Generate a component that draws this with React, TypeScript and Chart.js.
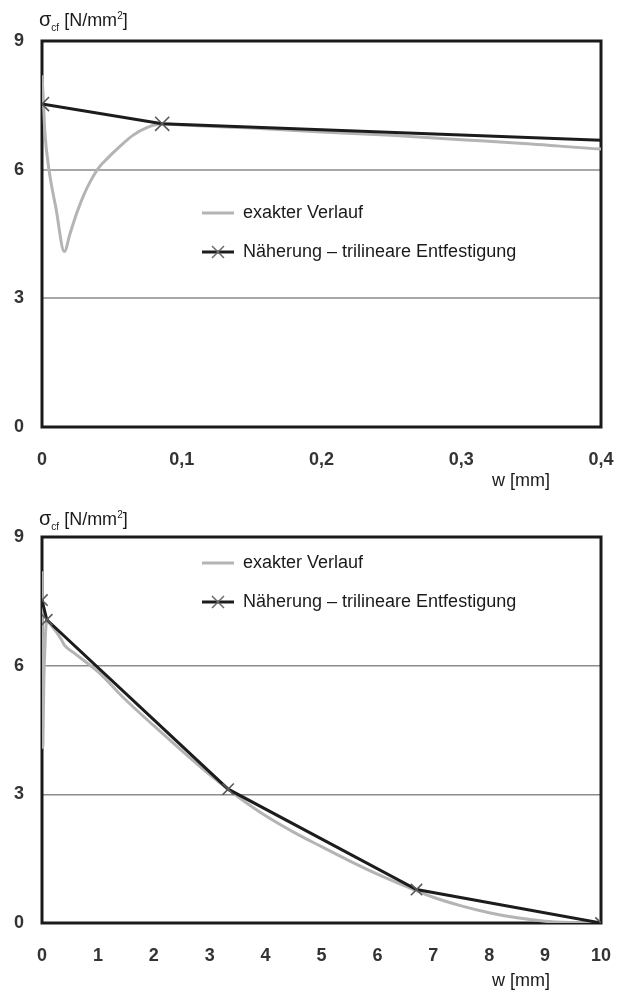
import React, { useEffect, useRef } from "react";
import { Chart, registerables } from "chart.js";

Chart.register(...registerables);

// ---- data ----
const exactW = [0, 0.001, 0.002, 0.005, 0.01, 0.016, 0.02, 0.025, 0.03, 0.035, 0.04, 0.047, 0.055, 0.065, 0.075, 0.086, 0.1, 0.15, 0.2, 0.25, 0.3, 0.35, 0.4, 0.6, 1, 1.5, 2, 2.5, 3, 3.5, 4, 4.5, 5, 5.5, 6, 6.5, 7, 7.5, 8, 8.5, 9, 9.5, 10];
const exactSigma = [8.2, 7.6, 6.9, 6.0, 5.1, 4.09, 4.5, 5.0, 5.42, 5.75, 6.02, 6.27, 6.52, 6.8, 6.98, 7.07, 7.04, 6.97, 6.88, 6.8, 6.7, 6.6, 6.48, 6.27, 5.86, 5.2, 4.6, 4.02, 3.46, 2.95, 2.5, 2.12, 1.78, 1.45, 1.14, 0.86, 0.6, 0.4, 0.24, 0.12, 0.04, 0.01, 0];

const approxW = [0, 0.086, 3.33, 6.7, 10];
const approxSigma = [7.53, 7.07, 3.12, 0.78, 0];

const seriesNames = ["exakter Verlauf", "Näherung – trilineare Entfestigung"];

const yTickLabels = ["0", "3", "6", "9"];
const topXTickLabels = ["0", "0,1", "0,2", "0,3", "0,4"];
const bottomXTickLabels = ["0", "1", "2", "3", "4", "5", "6", "7", "8", "9", "10"];

const yTitleMain = "σ";
const yTitleSub = "cf";
const yTitleUnit = " [N/mm";
const yTitleSup = "2";
const xTitle = "w [mm]";

const FONT = "'Liberation Sans', Arial, Helvetica, sans-serif";
const W = 628;
const H = 496;

function makeIcon(kind: number) {
  const c = document.createElement("canvas");
  c.width = 32;
  c.height = 18;
  const g = c.getContext("2d")!;
  g.lineWidth = 3;
  g.strokeStyle = kind === 0 ? "#b4b4b4" : "#1c1c1c";
  g.beginPath();
  g.moveTo(0, 9);
  g.lineTo(32, 9);
  g.stroke();
  if (kind === 1) {
    g.strokeStyle = "#6a6a6a";
    g.lineWidth = 1.5;
    g.beginPath();
    g.moveTo(10, 3);
    g.lineTo(22, 15);
    g.moveTo(22, 3);
    g.lineTo(10, 15);
    g.stroke();
  }
  return c;
}

const framePlugin = {
  id: "frame",
  beforeDraw(chart: any, _args: any, opts: any) {
    const lg = chart.legend;
    if (lg) {
      lg.left = opts.legendLeft;
      lg.top = opts.legendTop;
      lg.right = 620;
      lg.bottom = opts.legendTop + 130;
      lg.width = lg.right - lg.left;
      lg.height = 130;
    }
  },
  beforeDatasetsDraw(chart: any) {
    const { ctx, chartArea: a } = chart;
    ctx.save();
    ctx.strokeStyle = "#1a1a1a";
    ctx.lineWidth = 3;
    ctx.strokeRect(a.left, a.top, a.right - a.left, a.bottom - a.top);
    ctx.restore();
  },
};

type PanelProps = {
  top: number;
  xMax: number;
  xStep: number;
  xLabels: string[];
  legendTop: number;
  titleTop: number;
  xTitleTop: number;
  gridColor: string;
  gridWidth: number;
  markerRadius: number;
};

function Panel(p: PanelProps) {
  const ref = useRef<HTMLCanvasElement>(null);
  useEffect(() => {
    const icons = [makeIcon(0), makeIcon(1)];
    const chart = new Chart(ref.current!, {
      type: "line",
      data: {
        datasets: [
          {
            label: seriesNames[0],
            data: exactW.map((w, i) => ({ x: w, y: exactSigma[i] })),
            borderColor: "#b4b4b4",
            backgroundColor: "#b4b4b4",
            borderWidth: 3,
            pointRadius: 0,
            cubicInterpolationMode: "monotone",
            fill: false,
            order: 2,
          },
          {
            label: seriesNames[1],
            data: approxW.map((w, i) => ({ x: w, y: approxSigma[i] })),
            borderColor: "#1c1c1c",
            backgroundColor: "#1c1c1c",
            borderWidth: 3,
            pointStyle: "crossRot",
            pointRadius: p.markerRadius,
            pointBorderColor: "#5a5a5a",
            pointBorderWidth: 1.6,
            tension: 0,
            fill: false,
            order: 1,
          },
        ],
      },
      options: {
        animation: false,
        responsive: false,
        events: [],
        layout: { padding: { top: 41, right: 27, bottom: 0, left: 0 } },
        scales: {
          x: {
            type: "linear",
            min: 0,
            max: p.xMax,
            afterFit: (s: any) => {
              s.height = 69;
              s.paddingLeft = 0;
              s.paddingRight = 0;
            },
            grid: { display: false, drawTicks: false },
            border: { display: false },
            ticks: {
              stepSize: p.xStep,
              padding: 22,
              autoSkip: false,
              maxRotation: 0,
              color: "#333",
              font: { family: FONT, size: 18, weight: "bold" },
              callback: (_v: any, i: number) => p.xLabels[i],
            },
          },
          y: {
            type: "linear",
            min: 0,
            max: 9,
            afterFit: (s: any) => {
              s.width = 42;
            },
            grid: {
              drawTicks: false,
              color: (c: any) =>
                c.tick && (c.tick.value === 3 || c.tick.value === 6) ? p.gridColor : "rgba(0,0,0,0)",
              lineWidth: p.gridWidth,
            },
            border: { display: false },
            ticks: {
              stepSize: 3,
              padding: 18,
              color: "#333",
              font: { family: FONT, size: 18, weight: "bold" },
              callback: (_v: any, i: number) => yTickLabels[i],
            },
          },
        },
        plugins: {
          tooltip: { enabled: false },
          legend: {
            position: "chartArea",
            align: "start",
            labels: {
              usePointStyle: true,
              pointStyleWidth: 32,
              padding: 21,
              color: "#1a1a1a",
              font: { family: FONT, size: 18 },
              generateLabels: (ch: any) => {
                const items = (Chart.defaults.plugins.legend.labels as any).generateLabels(ch);
                return items
                  .slice()
                  .sort((a: any, b: any) => a.datasetIndex - b.datasetIndex)
                  .map((it: any) => ({ ...it, pointStyle: icons[it.datasetIndex], fontColor: "#1a1a1a" }));
              },
            },
          },
          frame: { legendLeft: 181, legendTop: p.legendTop },
        } as any,
      },
      plugins: [framePlugin as any],
    } as any);
    return () => chart.destroy();
  }, []);

  return (
    <div style={{ position: "absolute", left: 0, top: p.top, width: W, height: H }}>
      <canvas ref={ref} width={W} height={H} style={{ display: "block", width: W, height: H }} />
      <div
        style={{
          position: "absolute",
          left: 39,
          top: p.titleTop,
          fontFamily: FONT,
          fontSize: 18,
          lineHeight: "20px",
          color: "#1a1a1a",
          whiteSpace: "nowrap",
        }}
      >
        <span style={{ fontSize: 20 }}>{yTitleMain}</span>
        <span style={{ fontSize: 10, position: "relative", top: 5 }}>{yTitleSub}</span>
        <span>{yTitleUnit}</span>
        <span style={{ fontSize: 10, position: "relative", top: -7 }}>{yTitleSup}</span>
        <span>]</span>
      </div>
      <div
        style={{
          position: "absolute",
          left: 492,
          top: p.xTitleTop,
          fontFamily: FONT,
          fontSize: 18,
          lineHeight: "20px",
          color: "#1a1a1a",
          whiteSpace: "nowrap",
        }}
      >
        {xTitle}
      </div>
    </div>
  );
}

export default function App() {
  return (
    <div style={{ position: "absolute", left: 0, top: 0, width: W, height: 992, background: "#fff" }}>
      <Panel
        top={0}
        xMax={0.4}
        xStep={0.1}
        xLabels={topXTickLabels}
        legendTop={183}
        titleTop={9}
        xTitleTop={470}
        gridColor="#a8a8a8"
        gridWidth={2}
        markerRadius={10}
      />
      <Panel
        top={496}
        xMax={10}
        xStep={1}
        xLabels={bottomXTickLabels}
        legendTop={37}
        titleTop={12}
        xTitleTop={474}
        gridColor="#8c8c8c"
        gridWidth={1.5}
        markerRadius={8}
      />
    </div>
  );
}
